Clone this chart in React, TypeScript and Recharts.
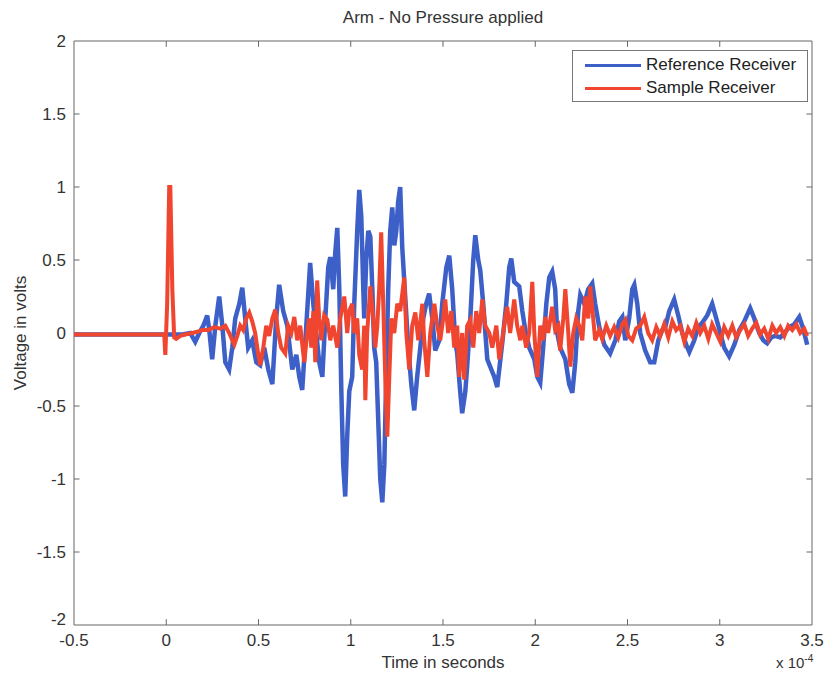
import React from 'react';
import { LineChart, Line, XAxis, YAxis, ReferenceLine, ReferenceArea, Legend, Label } from 'recharts';

// time in microseconds (axis shows units of 1e-4 s), voltage in volts
const xTicks = [-50, 0, 50, 100, 150, 200, 250, 300, 350];
const yTicks = [-2, -1.5, -1, -0.5, 0, 0.5, 1, 1.5, 2];
const innerXTicks = [0, 50, 100, 150, 200, 250, 300];
const innerYTicks = [-1.5, -1, -0.5, 0, 0.5, 1, 1.5];

const referenceReceiver: [number, number][] = [
  [-50, -0.01], [-23.8, -0.01], [-2.2, -0.01], [8.7, -0.01], [13.0, 0.0], [15.7, -0.06], [17.9, 0.0], [20.1, 0.05],
  [22.2, 0.12], [23.3, 0.02], [24.9, -0.18], [26.6, 0.05], [28.7, 0.25], [30.4, 0.05], [32.0, -0.2], [34.1, -0.25],
  [35.8, -0.1], [37.4, 0.1], [39.6, 0.2], [41.2, 0.31], [42.8, 0.1], [44.4, -0.1], [46.6, -0.05], [48.8, -0.2],
  [50.9, -0.22], [53.1, -0.1], [55.3, -0.25], [57.5, -0.35], [59.6, 0.1], [61.2, 0.33], [63.4, 0.15], [65.6, 0.05],
  [68.3, -0.25], [70.5, -0.15], [72.1, -0.3], [73.7, -0.39], [75.9, 0.05], [78.0, 0.48], [79.7, 0.2], [81.3, 0.0],
  [82.9, -0.2], [84.6, -0.3], [86.2, 0.1], [87.8, 0.45], [88.9, 0.52], [90.5, 0.3], [91.6, 0.55], [92.7, 0.72],
  [93.8, 0.3], [94.9, -0.4], [95.9, -0.9], [97.0, -1.12], [98.1, -0.7], [99.2, -0.4], [100.8, -0.3], [101.9, 0.2],
  [103.5, 0.7], [104.6, 0.98], [105.7, 0.8], [106.8, 0.3], [107.3, 0.1], [108.4, 0.5], [109.5, 0.7], [110.6, 0.66],
  [111.7, 0.3], [112.7, -0.1], [113.8, -0.2], [114.9, -0.6], [116.0, -1.0], [117.1, -1.16], [118.2, -0.9], [119.2, -0.3],
  [120.3, 0.3], [121.4, 0.7], [122.5, 0.86], [123.6, 0.6], [124.7, 0.7], [125.7, 0.9], [126.8, 1.0], [127.9, 0.59],
  [129.5, 0.25], [131.2, -0.1], [132.8, -0.35], [134.4, -0.53], [136.0, -0.3], [137.7, -0.1], [139.3, 0.1], [140.9, 0.2],
  [142.5, 0.27], [144.2, 0.1], [145.8, -0.12], [148.0, -0.05], [149.6, 0.2], [151.8, 0.45], [153.4, 0.53], [155.0, 0.3],
  [156.6, -0.05], [157.7, -0.14], [159.3, -0.4], [160.4, -0.55], [162.1, -0.4], [163.1, -0.23], [164.8, 0.1], [166.4, 0.5],
  [167.5, 0.67], [169.1, 0.5], [170.2, 0.43], [171.8, 0.2], [174.0, -0.18], [176.2, -0.25], [177.8, -0.3], [179.4, -0.37],
  [182.1, -0.07], [184.3, 0.2], [185.9, 0.45], [187.0, 0.51], [188.6, 0.35], [191.3, 0.32], [193.0, 0.15], [194.6, 0.02],
  [196.7, -0.1], [199.5, -0.18], [201.1, -0.3], [202.7, -0.34], [204.3, -0.1], [206.0, 0.2], [207.6, 0.38], [209.2, 0.42],
  [210.8, 0.3], [211.9, 0.0], [213.5, -0.1], [216.3, -0.18], [218.4, -0.35], [220.1, -0.41], [221.7, -0.2], [223.3, 0.15],
  [224.4, 0.26], [226.6, 0.2], [228.7, 0.3], [230.9, 0.34], [232.5, 0.2], [234.7, 0.04], [237.4, -0.08], [240.6, -0.14],
  [243.4, -0.05], [245.5, 0.08], [247.2, 0.11], [248.8, -0.05], [250.9, 0.1], [252.6, 0.3], [253.7, 0.33], [255.3, 0.2],
  [256.9, 0.0], [259.6, -0.12], [262.3, -0.2], [264.5, -0.2], [266.7, -0.05], [268.8, 0.02], [270.5, 0.04], [272.6, 0.15],
  [275.3, 0.23], [277.5, 0.12], [279.7, 0.0], [281.8, -0.08], [283.5, -0.13], [286.2, -0.05], [288.3, 0.04], [290.5, 0.07],
  [293.2, 0.12], [295.9, 0.2], [298.1, 0.1], [300.3, 0.0], [302.4, -0.1], [305.1, -0.16], [307.9, -0.08], [310.6, 0.02],
  [313.3, 0.08], [316.5, 0.17], [318.7, 0.1], [321.4, 0.0], [323.6, -0.05], [325.7, -0.07], [327.9, -0.03], [330.1, -0.02],
  [332.8, -0.03], [335.0, 0.0], [337.7, 0.04], [340.4, 0.06], [343.1, 0.11], [344.7, 0.05], [345.8, 0.0], [347.4, -0.08],
];

const sampleReceiver: [number, number][] = [
  [-50, -0.01], [-23.8, -0.01], [-3.3, -0.01], [-1.1, -0.01], [-0.5, -0.15], [0.5, 0.2], [1.6, 1.0], [2.2, 1.0],
  [3.3, 0.3], [4.3, -0.03], [5.4, -0.04], [7.6, -0.02], [10.3, -0.01], [14.1, 0.0], [17.3, 0.01], [19.5, 0.02],
  [22.8, 0.02], [26.0, 0.04], [29.3, 0.03], [32.0, 0.05], [34.1, 0.0], [35.8, -0.05], [36.9, -0.08], [38.5, -0.02],
  [40.1, 0.05], [41.7, 0.02], [43.4, 0.1], [45.0, 0.14], [46.6, 0.08], [48.2, 0.0], [49.9, -0.15], [50.9, -0.22],
  [52.6, -0.1], [54.2, 0.05], [55.8, -0.02], [57.5, 0.1], [59.1, 0.16], [60.7, 0.0], [62.3, -0.1], [64.5, -0.14],
  [66.1, 0.05], [67.8, 0.0], [69.4, 0.11], [71.0, -0.05], [72.6, 0.05], [74.8, -0.2], [76.4, 0.0], [77.5, 0.1],
  [78.6, -0.1], [79.7, 0.15], [80.8, -0.2], [81.8, 0.36], [82.9, 0.1], [84.0, -0.05], [85.6, 0.12], [87.3, 0.09],
  [88.9, -0.05], [90.5, 0.05], [92.7, -0.1], [94.3, 0.1], [96.5, 0.25], [98.1, 0.0], [99.2, 0.15], [100.8, 0.2],
  [101.9, 0.0], [103.5, 0.1], [104.6, -0.15], [106.2, -0.25], [107.3, 0.05], [107.9, -0.46], [108.9, 0.0], [110.6, 0.32],
  [112.2, 0.1], [113.3, -0.1], [114.4, 0.05], [115.4, 0.3], [116.5, 0.69], [117.6, 0.2], [118.7, -0.3], [119.8, -0.71],
  [120.9, -0.3], [122.0, 0.1], [123.6, 0.0], [125.2, 0.2], [126.8, 0.15], [129.0, 0.38], [130.1, 0.0], [131.7, -0.25],
  [133.3, 0.05], [135.0, 0.14], [136.6, -0.05], [138.8, 0.2], [139.8, -0.05], [141.5, -0.3], [143.1, 0.0], [145.3, 0.2],
  [146.9, 0.05], [148.5, -0.05], [150.1, 0.1], [151.2, 0.23], [152.8, 0.0], [154.5, 0.15], [156.1, -0.1], [157.7, 0.05],
  [158.8, -0.3], [160.4, 0.0], [161.5, -0.32], [163.1, 0.05], [164.8, 0.09], [166.4, -0.1], [168.0, 0.15], [169.6, 0.0],
  [171.3, 0.23], [172.9, 0.05], [175.1, 0.0], [176.7, -0.1], [178.9, 0.05], [180.5, -0.18], [182.1, -0.05], [183.7, 0.1],
  [184.8, 0.18], [186.4, 0.0], [188.6, 0.23], [190.2, 0.05], [191.9, -0.05], [193.0, 0.05], [195.1, -0.1], [196.7, 0.0],
  [198.4, 0.35], [199.5, 0.0], [201.1, -0.3], [202.7, 0.05], [204.3, -0.05], [205.4, 0.11], [207.0, 0.0], [209.2, 0.18],
  [210.8, 0.02], [212.5, 0.05], [213.5, -0.12], [215.2, 0.1], [216.3, 0.3], [217.9, 0.0], [219.0, -0.23], [220.6, 0.0],
  [222.2, 0.1], [223.8, 0.05], [225.5, -0.05], [227.1, 0.25], [228.7, 0.1], [229.8, 0.32], [231.4, 0.1], [232.5, -0.05],
  [234.7, 0.02], [236.3, -0.04], [238.5, 0.05], [240.6, -0.02], [242.8, 0.04], [245.0, -0.03], [247.2, 0.06], [248.8, 0.09],
  [250.4, -0.02], [252.6, -0.05], [254.7, 0.03], [256.9, 0.05], [259.1, 0.11], [261.2, 0.0], [263.4, -0.05], [265.6, 0.04],
  [267.7, -0.02], [269.9, 0.06], [272.1, -0.03], [274.3, 0.08], [276.4, 0.02], [278.6, 0.05], [280.8, -0.06], [282.9, 0.03],
  [285.1, -0.02], [287.3, 0.07], [289.4, 0.0], [291.6, 0.05], [293.8, -0.04], [295.9, 0.06], [298.1, 0.0], [300.3, -0.06],
  [302.4, 0.04], [304.6, -0.02], [306.8, 0.05], [308.9, -0.03], [311.1, 0.02], [313.3, 0.06], [315.4, -0.02], [317.6, 0.03],
  [319.8, 0.07], [321.9, -0.01], [324.1, 0.03], [326.3, -0.04], [328.5, 0.05], [330.6, 0.0], [332.8, 0.04], [335.0, -0.02],
  [337.1, 0.05], [339.3, 0.02], [341.5, 0.06], [343.6, 0.0], [345.8, 0.03], [347.4, -0.02],
];

const seriesNames = ['Reference Receiver', 'Sample Receiver'];
const BLUE = '#3d5fc8';
const RED = '#f0452f';
const FONT = '"Liberation Sans", Arial, Helvetica, sans-serif';

const refData = referenceReceiver.map(([t, v]) => ({ t, v }));
const sampleData = sampleReceiver.map(([t, v]) => ({ t, v }));

const LegendBox = () => (
  <div
    style={{
      border: '1px solid #777',
      background: '#fff',
      width: 234,
      height: 50,
      fontFamily: FONT,
      fontSize: 17,
      color: '#222',
      position: 'relative',
    }}
  >
    {[BLUE, RED].map((c, i) => (
      <div key={i} style={{ position: 'absolute', left: 12, top: 3 + i * 23, height: 22, display: 'flex', alignItems: 'center' }}>
        <div style={{ width: 56, height: 3, background: c, marginRight: 5 }} />
        <span>{seriesNames[i]}</span>
      </div>
    ))}
  </div>
);

const YTick = (props: any) => {
  const { x, y, payload } = props;
  const shift = payload.value === -2 ? -6 : 0;
  return (
    <text x={x} y={y + shift} dy="0.355em" textAnchor="end" fontSize={17} fill="#333" fontFamily={FONT}>
      {String(payload.value)}
    </text>
  );
};

export default function App() {
  const tickStyle = { fontSize: 17, fill: '#333', fontFamily: FONT };
  return (
    <div style={{ position: 'relative', width: 816, height: 663, fontFamily: FONT, background: '#fff' }}>
      <div style={{ position: 'absolute', left: 66, width: 738, top: 0, lineHeight: '20px', textAlign: 'center', fontSize: 17, color: '#333' }}>
        Arm - No Pressure applied
      </div>
      <LineChart width={816} height={663} margin={{ top: 33, right: 12, left: 0, bottom: 0 }}>
        <XAxis
          dataKey="t"
          type="number"
          domain={[-50, 350]}
          ticks={xTicks}
          allowDataOverflow
          axisLine={false}
          tickLine={false}
          tickSize={0}
          tickMargin={9}
          height={46}
          tick={tickStyle}
          tickFormatter={(v: number) => String(v / 100)}
        >
          <Label value="Time in seconds" position="insideBottom" offset={3} style={{ fontSize: 17, fill: '#333', fontFamily: FONT }} />
        </XAxis>
        <YAxis
          type="number"
          domain={[-2, 2]}
          ticks={yTicks}
          allowDataOverflow
          axisLine={false}
          tickLine={false}
          tickSize={0}
          tickMargin={8}
          width={66}
          tick={<YTick />}
        >
          <Label value="Voltage in volts" angle={-90} position="insideLeft" offset={12} style={{ textAnchor: 'middle', fontSize: 17, fill: '#333', fontFamily: FONT }} />
        </YAxis>
        <ReferenceArea x1={-50} x2={350} y1={-2} y2={2} fill="none" stroke="#666" strokeWidth={1} />
        {innerXTicks.map((t) => (
          <ReferenceLine key={'b' + t} segment={[{ x: t, y: -2 }, { x: t, y: -1.96 }]} stroke="#666" />
        ))}
        {innerXTicks.map((t) => (
          <ReferenceLine key={'t' + t} segment={[{ x: t, y: 2 }, { x: t, y: 1.96 }]} stroke="#666" />
        ))}
        {innerYTicks.map((v) => (
          <ReferenceLine key={'l' + v} segment={[{ x: -50, y: v }, { x: -47, y: v }]} stroke="#666" />
        ))}
        {innerYTicks.map((v) => (
          <ReferenceLine key={'r' + v} segment={[{ x: 350, y: v }, { x: 347, y: v }]} stroke="#666" />
        ))}
        <Line data={refData} dataKey="v" name={seriesNames[0]} type="linear" stroke={BLUE} strokeWidth={4.5} dot={false} isAnimationActive={false} />
        <Line data={sampleData} dataKey="v" name={seriesNames[1]} type="linear" stroke={RED} strokeWidth={4} dot={false} isAnimationActive={false} />
        <Legend
          layout="horizontal"
          verticalAlign="middle"
          align="center"
          content={() => <LegendBox />}
          wrapperStyle={{ position: 'absolute', top: 42, left: 564, width: 236, height: 52 }}
        />
      </LineChart>
      <div style={{ position: 'absolute', left: 768, top: 645, fontSize: 15, color: '#333', whiteSpace: 'nowrap' }}>
        x 10<sup style={{ fontSize: 10 }}>-4</sup>
      </div>
    </div>
  );
}
